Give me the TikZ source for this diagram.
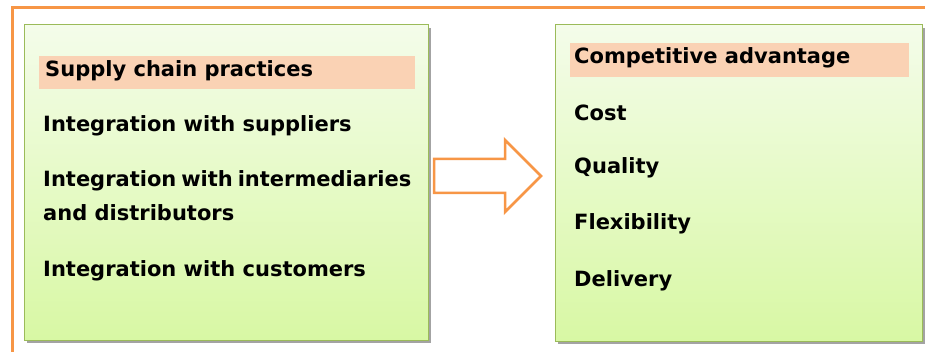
\documentclass[tikz,border=0pt]{standalone}
\usepackage{fontspec}
\setmainfont{DejaVu Sans}
\usetikzlibrary{shadows}
\definecolor{frameorange}{HTML}{F79646}
\definecolor{boxtop}{HTML}{F4FCEA}
\definecolor{boxbot}{HTML}{D8F8A4}
\definecolor{boxline}{HTML}{9BBB59}
\definecolor{headfill}{HTML}{FAD2B4}
\tikzset{
  panel/.style={draw=boxline, line width=1pt, top color=boxtop, bottom color=boxbot,
    drop shadow={shadow xshift=3pt, shadow yshift=-3pt, fill=black!45, opacity=.8}},
  headband/.style={fill=headfill, draw=none},
  item/.style={anchor=west, inner sep=0pt, font=\bfseries\fontsize{21}{26}\selectfont},
}
\begin{document}
\begin{tikzpicture}[x=1pt,y=-1pt]
  \useasboundingbox (0,0) rectangle (925,352);
  % outer orange frame, running off the right and bottom edges
  \begin{scope}
    \clip (0,0) rectangle (925,352);
    \draw[frameorange, line width=3pt] (12,360) -- (12,7.5) -- (940,7.5);
  \end{scope}

  % left panel
  \path[panel] (24,25) rectangle (428,340);
  \fill[headband] (39,56) rectangle (415,89);
  \node[item] (sc)  at (45,71)  {Supply chain practices};
  \node[item] (isu) at (43,126) {Integration with suppliers};
  \node[item] (iin) at (43,181) {\makebox[368pt][s]{Integration with intermediaries}};
  \node[item] (idi) at (43,213) {and distributors};
  \node[item] (icu) at (43,271) {Integration with customers};

  % right panel
  \path[panel] (555,25) rectangle (922,341);
  \fill[headband] (570,43) rectangle (909,77);
  \node[item] (ca)  at (574,58)  {Competitive advantage};
  \node[item] (co)  at (574,113) {Cost};
  \node[item] (qu)  at (574,168) {Quality};
  \node[item] (fl)  at (574,224) {Flexibility};
  \node[item] (de)  at (574,281) {Delivery};

  % block arrow between the panels
  \draw[frameorange, fill=white, line width=2.5pt, line join=miter]
    (434,159) -- (505,159) -- (505,140) -- (541,176) -- (505,212)
    -- (505,193) -- (434,193) -- cycle;
\end{tikzpicture}
\end{document}
